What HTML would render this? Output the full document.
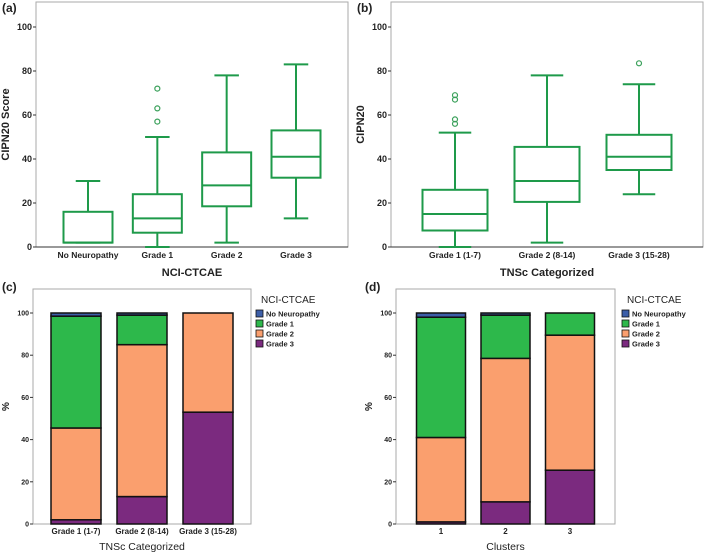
<!DOCTYPE html>
<html><head><meta charset="utf-8">
<style>
html,body{margin:0;padding:0;background:#fff;}
svg{display:block;font-family:"Liberation Sans",sans-serif;}
</style></head>
<body>
<svg id="s" width="709" height="555" viewBox="0 0 709 555" xmlns="http://www.w3.org/2000/svg"></svg>
<script>
// Panel a data
const aCats = ["No Neuropathy","Grade 1","Grade 2","Grade 3"];
const aMin = [2,0,2,13];
const aQ1 = [2,6.5,18.5,31.5];
const aMed = [2,13,28,41];
const aQ3 = [16,24,43,53];
const aMax = [30,50,78,83];
const aOut = [[],[57,63,72],[],[]];
// Panel b data
const bCats = ["Grade 1  (1-7)","Grade 2  (8-14)","Grade 3  (15-28)"];
const bMin = [0,2,24];
const bQ1 = [7.5,20.5,35];
const bMed = [15,30,41];
const bQ3 = [26,45.5,51];
const bMax = [52,78,74];
const bOut = [[56,58,67,69],[],[83.5]];
const boxTicks = [0,20,40,60,80,100];
// Stacked bar data (bottom-up: Grade 3, Grade 2, Grade 1, No Neuropathy)
const seriesNames = ["Grade 3","Grade 2","Grade 1","No Neuropathy"];
const seriesColors = ["#7b2a7f","#fa9f6e","#2db84b","#3c5ea8"];
const cCats = ["Grade 1 (1-7)","Grade 2 (8-14)","Grade 3 (15-28)"];
const cG3 = [2,13,53];
const cG2 = [43.5,72,47];
const cG1 = [53,14,0];
const cNo = [1.5,1,0];
const dCats = ["1","2","3"];
const dG3 = [1,10.5,25.5];
const dG2 = [40,68,64];
const dG1 = [57,20.5,10.5];
const dNo = [2,1,0];
const pctTicks = [0,20,40,60,80,100];

const S = document.getElementById('s');
const NS = "http://www.w3.org/2000/svg";
function mk(tag, attrs, parent){
  const e = document.createElementNS(NS, tag);
  for (const k in attrs) e.setAttribute(k, attrs[k]);
  (parent||S).appendChild(e);
  return e;
}
function txt(x,y,s,size,anchor,name,extra){
  const t = mk('text',{x:x,y:y,'font-size':size,'text-anchor':anchor||'middle','font-weight':'bold',fill:'#222'});
  if(extra) for(const k in extra) t.setAttribute(k,extra[k]);
  t.textContent = s;
  
  
  return t;
}
function catX(o,i){
  const n=o.cats.length, a=o.left+o.pad, b=o.right-o.pad;
  return n>1 ? a+(b-a)*i/(n-1) : (a+b)/2;
}

function boxPanel(o){
  const y = v => o.y0 + (o.y100 - o.y0) * v / 100;
  const fr = mk('rect',{x:o.left,y:o.top,width:o.right-o.left,height:o.y0-o.top,fill:'none',stroke:'#aaa','stroke-width':1});
  
  
  const ax = mk('line',{x1:o.left,y1:o.y0,x2:o.right,y2:o.y0,stroke:'#333','stroke-width':1});
  
  
  boxTicks.forEach(t=>{
    const tl = mk('line',{x1:o.left-3,y1:y(t),x2:o.left,y2:y(t),stroke:'#333'});
    
    
    txt(o.left-4, y(t)+3, String(t), 9, 'end', o.id+'-y-tick-label');
  });
  const n = o.cats.length;
  for(let i=0;i<n;i++){
    const cx = catX(o,i);
    const w = o.bw, g = mk('g',{stroke:'#1e9a4a','stroke-width':2,fill:'none'});
    
    
    mk('line',{x1:cx,y1:y(o.max[i]),x2:cx,y2:y(o.q3[i])},g);
    mk('line',{x1:cx,y1:y(o.min[i]),x2:cx,y2:y(o.q1[i])},g);
    mk('line',{x1:cx-w/4,y1:y(o.max[i]),x2:cx+w/4,y2:y(o.max[i])},g);
    mk('line',{x1:cx-w/4,y1:y(o.min[i]),x2:cx+w/4,y2:y(o.min[i])},g);
    mk('rect',{x:cx-w/2,y:y(o.q3[i]),width:w,height:y(o.q1[i])-y(o.q3[i])},g);
    mk('line',{x1:cx-w/2,y1:y(o.med[i]),x2:cx+w/2,y2:y(o.med[i])},g);
    o.out[i].forEach(v=>{
      const c = mk('circle',{cx:cx,cy:y(v),r:2.5,fill:'none',stroke:'#3aa05a','stroke-width':1.2});
      
      
    });
    txt(cx, o.y0+11, o.cats[i], 8.5, 'middle', o.id+'-x-tick-label');
  }
  txt((o.left+o.right)/2, o.y0+29, o.xt, 11, 'middle', o.id+'-x-axis-title');
  txt(0,0,o.yt,11,'middle',o.id+'-y-axis-title',{transform:`translate(${o.left-27},${(o.top+o.y0)/2}) rotate(-90)`});
  txt(o.left-34, 12, o.label, 12, 'start', o.id+'-panel-label');
}

function barPanel(o){
  const y = v => o.y0 + (o.y100 - o.y0) * v / 100;
  const fr = mk('rect',{x:o.left,y:o.top,width:o.right-o.left,height:o.y0-o.top,fill:'none',stroke:'#aaa','stroke-width':1});
  
  
  pctTicks.forEach(t=>{
    const tl = mk('line',{x1:o.left-3,y1:y(t),x2:o.left,y2:y(t),stroke:'#333'});
    
    
    txt(o.left-4, y(t)+2.5, String(t), 7, 'end', o.id+'-y-tick-label');
  });
  const n = o.cats.length;
  const series=[o.g3,o.g2,o.g1,o.no];
  for(let i=0;i<n;i++){
    const cx = catX(o,i);
    let acc=0;
    series.forEach((s,k)=>{
      if(s[i]<=0) return;
      const r = mk('rect',{x:cx-o.bw/2,y:y(acc+s[i]),width:o.bw,height:y(acc)-y(acc+s[i]),fill:seriesColors[k],stroke:'#111','stroke-width':1.5});
      
      
      acc+=s[i];
    });
    txt(cx, o.y0+10, o.cats[i], 8, 'middle', o.id+'-x-tick-label');
  }
  txt((o.left+o.right)/2, o.y0+26, o.xt, 10.5, 'middle', o.id+'-x-axis-title',{'font-weight':'normal'});
  txt(0,0,'%',10,'middle',o.id+'-y-axis-title',{transform:`translate(${o.left-24},${(o.top+o.y0)/2}) rotate(-90)`});
  txt(o.left-31, o.top+2, o.label, 12, 'start', o.id+'-panel-label');
  txt(o.lx+5, o.top+14, 'NCI-CTCAE', 10, 'start', o.id+'-legend-title',{'font-weight':'normal'});
  const order=[3,2,1,0];
  order.forEach((k,j)=>{
    const yy = o.top+21+j*10;
    const sw = mk('rect',{x:o.lx,y:yy,width:7,height:7,fill:seriesColors[k],stroke:'#111','stroke-width':0.8});
    
    
    txt(o.lx+10, yy+6.5, seriesNames[k], 7.5, 'start', o.id+'-legend-entry');
  });
}

boxPanel({id:'a',label:'(a)',left:36,right:348,top:2,y0:247,y100:27,pad:52,bw:49,cats:aCats,min:aMin,q1:aQ1,med:aMed,q3:aQ3,max:aMax,out:aOut,xt:'NCI-CTCAE',yt:'CIPN20 Score'});
boxPanel({id:'b',label:'(b)',left:391,right:703,top:2,y0:247,y100:27,pad:64,bw:65,cats:bCats,min:bMin,q1:bQ1,med:bMed,q3:bQ3,max:bMax,out:bOut,xt:'TNSc Categorized',yt:'CIPN20'});
barPanel({id:'c',label:'(c)',left:33,right:251,top:289,y0:524,y100:313,pad:43,bw:50,cats:cCats,g3:cG3,g2:cG2,g1:cG1,no:cNo,xt:'TNSc Categorized',lx:256});
barPanel({id:'d',label:'(d)',left:396,right:615,top:289,y0:524,y100:313,pad:45,bw:49,cats:dCats,g3:dG3,g2:dG2,g1:dG1,no:dNo,xt:'Clusters',lx:622});
</script>
</body></html>
